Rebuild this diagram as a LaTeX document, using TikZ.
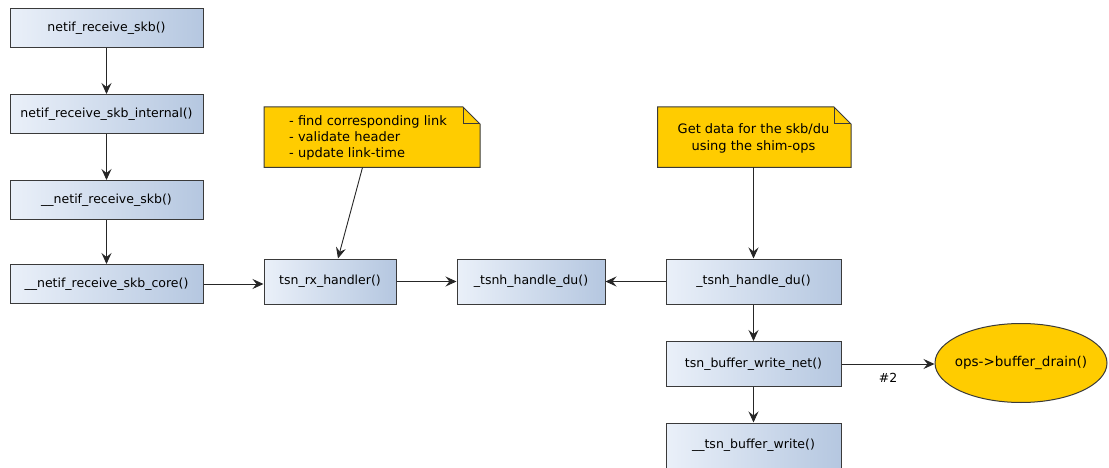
\documentclass[tikz,border=0pt]{standalone}
\usepackage{fontspec}
\setmainfont{DejaVu Sans}
\usetikzlibrary{shapes.geometric,shapes.misc,arrows.meta}
\definecolor{boxleft}{HTML}{EAF0F9}
\definecolor{boxright}{HTML}{B5C7E0}
\definecolor{edge}{HTML}{3A3A3A}
\definecolor{notefill}{HTML}{FFCC00}
\tikzset{
  fn/.style={draw=edge, line width=1pt, left color=boxleft, right color=boxright,
    minimum height=#1, inner sep=0pt, font=\fontsize{12.5}{14}\selectfont},
  fn/.default=39pt,
  link/.style={draw=black!85, line width=0.9pt, -{Stealth[length=11pt,width=10pt,inset=4pt]}},
  oval/.style={ellipse, draw=edge, line width=1pt, fill=notefill, minimum width=172pt,
    minimum height=79pt, inner sep=0pt, font=\fontsize{13.5}{15}\selectfont},
  notetext/.style={inner sep=0pt, font=\fontsize{13}{16}\selectfont},
}
\begin{document}
\begin{tikzpicture}[x=1pt,y=-1pt]
\useasboundingbox (0,0) rectangle (1109,468);

% call chain on the left
\node[fn, minimum width=193pt] (rx)   at (106.5,28)  {netif\_receive\_skb()};
\node[fn, minimum width=193pt] (rxi)  at (106.5,114) {netif\_receive\_skb\_internal()};
\node[fn, minimum width=193pt] (nrx)  at (106.5,200) {\_\_netif\_receive\_skb()};
\node[fn, minimum width=193pt] (core) at (106.5,284) {\_\_netif\_receive\_skb\_core()};

% tsn handlers
\node[fn=45pt, minimum width=132pt] (hnd)  at (330,281.5) {tsn\_rx\_handler()};
\node[fn=45pt, minimum width=148pt] (du)   at (531,281.5) {\_tsnh\_handle\_du()};
\node[fn=45pt, minimum width=175pt] (du2)  at (753.5,281.5) {\_tsnh\_handle\_du()};
\node[fn=45pt, minimum width=175pt] (bwn)  at (753.5,364) {tsn\_buffer\_write\_net()};
\node[fn=45pt, minimum width=175pt] (bw)   at (753.5,445.5) {\_\_tsn\_buffer\_write()};
\node[oval] (drain) at (1021,363) {\makebox[0pt]{ops->buffer\_drain()}};

% notes with folded corner
\path[draw=edge, line width=1pt, fill=notefill]
  (264,107) -- (463,107) -- (480,124) -- (480,167.5) -- (264,167.5) -- cycle;
\draw[edge, line width=1pt] (463,107) -- (463,124) -- (480,124);
\node[notetext, anchor=north west, align=left] (n1)
  at (289,115) {- find corresponding link\\- validate header\\- update link-time};
\coordinate (n1b) at (362.5,167.5);

\path[draw=edge, line width=1pt, fill=notefill]
  (657.5,107) -- (834,107) -- (851,124) -- (851,167.5) -- (657.5,167.5) -- cycle;
\draw[edge, line width=1pt] (834,107) -- (834,124) -- (851,124);
\node[notetext, align=center, font=\fontsize{13}{17}\selectfont] (n2)
  at (753.5,138) {Get data for the skb/du\\using the shim-ops};
\coordinate (n2b) at (753.5,167.5);

% connectors
\draw[link] (rx) -- (rxi);
\draw[link] (rxi) -- (nrx);
\draw[link] (nrx) -- (core);
\draw[link] (core.east) -- (core.east -| hnd.west);
\draw[link] (hnd) -- (du);
\draw[link] (du2) -- (du);
\draw[link] (du2) -- (bwn);
\draw[link] (bwn) -- (bw);
\draw[link] (bwn.east) -- node[below=5pt, font=\fontsize{12.5}{14}\selectfont] {\#2} (bwn.east -| drain.west);
\draw[link] (n1b) -- ([xshift=8pt]hnd.north);
\draw[link] (n2b) -- (du2.north);
\end{tikzpicture}
\end{document}
